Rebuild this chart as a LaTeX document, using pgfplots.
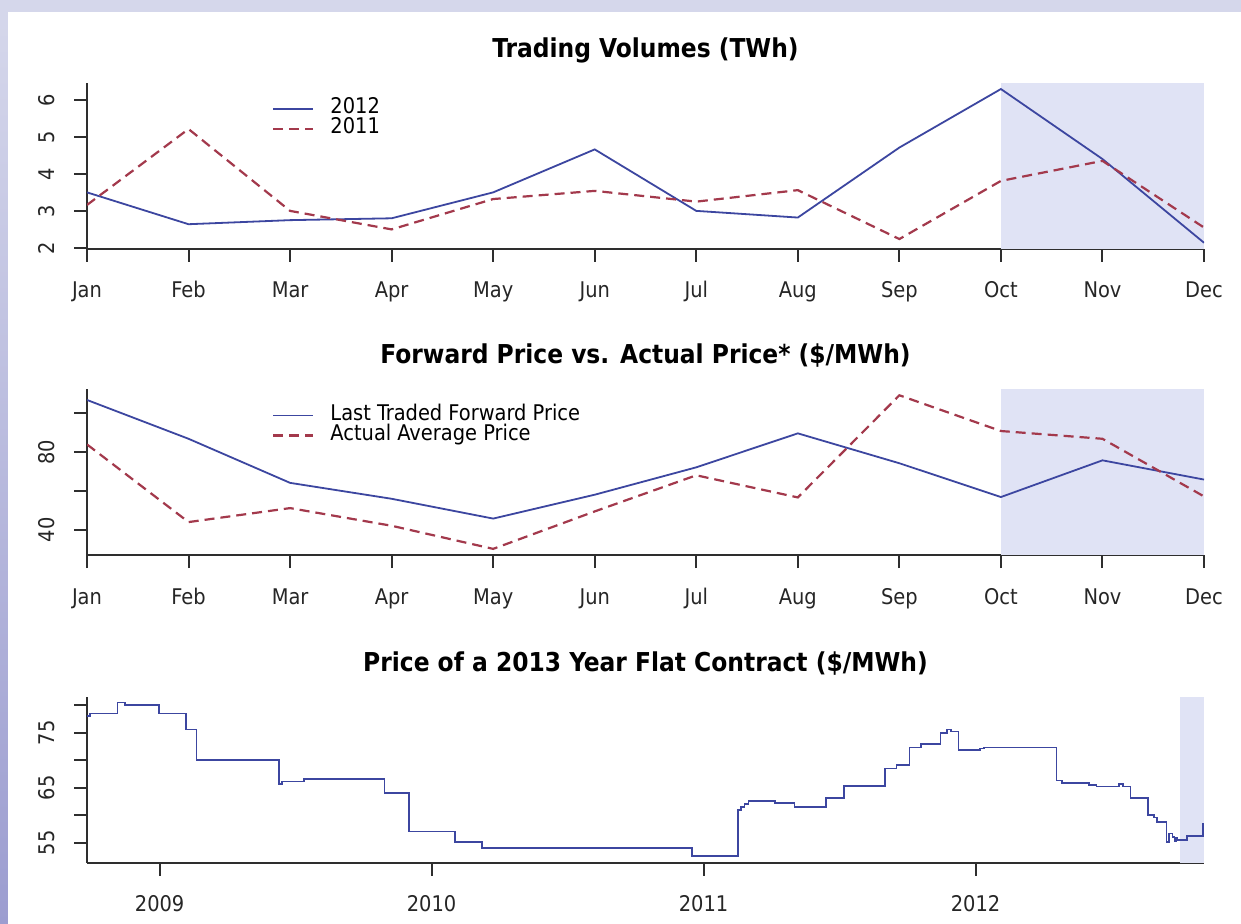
\documentclass[border=0pt]{standalone}
\usepackage{fontspec}
\setmainfont{DejaVu Sans Condensed}
\usepackage{pgfplots}
\pgfplotsset{compat=1.18}
\definecolor{bluel}{HTML}{3C46A0}
\definecolor{redl}{HTML}{A3394C}
\definecolor{shadec}{HTML}{E0E3F5}
\definecolor{axc}{HTML}{2E2E2E}
\definecolor{bgtop}{HTML}{D5D7EB}
\definecolor{bgbot}{HTML}{9C9DD0}
\pgfplotsset{
 myaxis/.style={
  scale only axis, width=558.5pt, height=83pt, anchor=south west,
  axis x line*=bottom, axis y line*=left,
  axis line style={axc, line width=1pt, -},
  tick align=outside, major tick length=6.5pt,
  tick style={axc, line width=1pt},
  tick label style={font=\fontsize{10.8}{10.8}\selectfont, text=black!85},
  xticklabel style={anchor=base, yshift=-18pt},
  yticklabel style={rotate=90, anchor=base, yshift=9.85pt},
  every axis title shift=0pt,
  title style={font=\bfseries\fontsize{13}{14}\selectfont, anchor=base, yshift=12.7pt},
  legend cell align=left,
  legend style={draw=none, fill=none, inner sep=0pt, anchor=north west,
     nodes={inner sep=0pt, text height=0.75em, text depth=0.25em, font=\fontsize{10.8}{10.8}\selectfont},
     /tikz/every odd column/.append style={column sep=8pt}},
  legend image code/.code={\draw[#1] (0pt,0pt) -- (20pt,0pt);},
 }
}
\begin{document}
\begin{tikzpicture}
\useasboundingbox (0pt,0pt) rectangle (620.5pt,462pt);
\fill[bgtop] (0pt,0pt) rectangle (620.5pt,462pt);
\shade[top color=bgtop, bottom color=bgbot] (0pt,0pt) rectangle (4pt,456pt);
\fill[white] (4pt,0pt) rectangle (620.5pt,456pt);

\begin{axis}[myaxis, at={(43.5pt,337.55pt)},
  xmin=1, xmax=12, ymin=1.984, ymax=6.466,
  xtick={1,...,12}, xticklabels={Jan,Feb,Mar,Apr,May,Jun,Jul,Aug,Sep,Oct,Nov,Dec},
  ytick={2,3,4,5,6}, yticklabels={2,3,4,5,6},
  title={Trading Volumes (TWh)},
  legend style={at={(0.1655,0.906)}}]
\addplot[draw=none, fill=shadec, forget plot] coordinates {(10,1.984) (10,6.466) (12,6.466) (12,1.984)} -- cycle;
\addplot[bluel, line width=0.9pt] coordinates {(1,3.51) (2,2.65) (3,2.76) (4,2.81) (5,3.51) (6,4.67) (7,3.01) (8,2.83) (9,4.72) (10,6.30) (11,4.41) (12,2.15)};
\addlegendentry{2012}
\addplot[redl, line width=1.1pt, dash pattern=on 5pt off 3pt] coordinates {(1,3.17) (2,5.22) (3,3.01) (4,2.51) (5,3.33) (6,3.55) (7,3.26) (8,3.57) (9,2.25) (10,3.82) (11,4.36) (12,2.56)};
\addlegendentry{2011}
\end{axis}

\begin{axis}[myaxis, at={(43.5pt,184.45pt)},
  xmin=1, xmax=12, ymin=27.0, ymax=112.5,
  xtick={1,...,12}, xticklabels={Jan,Feb,Mar,Apr,May,Jun,Jul,Aug,Sep,Oct,Nov,Dec},
  ytick={40,60,80,100}, yticklabels={40,,80,},
  title={Forward Price vs. Actual Price* (\$/MWh)},
  legend style={at={(0.1655,0.903)}}]
\addplot[draw=none, fill=shadec, forget plot] coordinates {(10,27) (10,112.5) (12,112.5) (12,27)} -- cycle;
\addplot[bluel, line width=0.9pt] coordinates {(1,106.9) (2,86.9) (3,64.2) (4,56.0) (5,45.8) (6,58.1) (7,72.2) (8,89.7) (9,74.3) (10,56.9) (11,75.8) (12,65.9)};
\addlegendentry{Last Traded Forward Price}
\addplot[redl, line width=1.1pt, dash pattern=on 5pt off 3pt] coordinates {(1,84.0) (2,44.0) (3,51.2) (4,42.1) (5,30.2) (6,49.5) (7,68.1) (8,56.7) (9,109.3) (10,90.9) (11,86.9) (12,57.2)};
\addlegendentry{Actual Average Price}
\end{axis}

\begin{axis}[myaxis, at={(43.5pt,30.5pt)},
  xmin=2008.733, xmax=2012.84, ymin=51.3, ymax=81.5,
  xtick={2009,2010,2011,2012}, xticklabels={2009,2010,2011,2012},
  ytick={55,60,65,70,75,80}, yticklabels={55,,65,,75,},
  title={Price of a 2013 Year Flat Contract (\$/MWh)}]
\addplot[draw=none, fill=shadec, forget plot] coordinates {(2012.753,51.3) (2012.753,81.5) (2012.84,81.5) (2012.84,51.3)} -- cycle;
\addplot[bluel, line width=0.8pt, const plot] coordinates {
(2008.733,78.0) (2008.745,78.5) (2008.845,80.5) (2008.872,80.0) (2008.997,78.5)
(2009.096,75.6) (2009.136,70.0) (2009.439,65.7) (2009.450,66.1) (2009.530,66.6)
(2009.827,64.0) (2009.916,57.0) (2010.085,55.1) (2010.185,54.0) (2010.958,52.6)
(2011.126,60.9) (2011.138,61.5) (2011.150,62.0) (2011.165,62.6) (2011.263,62.2)
(2011.335,61.5) (2011.451,63.1) (2011.517,65.3) (2011.667,68.5) (2011.709,69.1)
(2011.757,72.3) (2011.800,72.9) (2011.871,75.0) (2011.894,75.6) (2011.909,75.2)
(2011.937,71.9) (2012.017,72.1) (2012.032,72.3) (2012.298,66.3) (2012.318,65.8)
(2012.412,65.9) (2012.418,65.5) (2012.445,65.2) (2012.528,65.7) (2012.542,65.2)
(2012.570,63.1) (2012.633,60.0) (2012.656,59.6) (2012.667,58.8) (2012.702,55.1)
(2012.711,56.7) (2012.724,56.0) (2012.731,55.3) (2012.736,55.9) (2012.742,55.5)
(2012.777,56.2) (2012.837,58.4) (2012.84,58.4)};
\end{axis}
\end{tikzpicture}
\end{document}
